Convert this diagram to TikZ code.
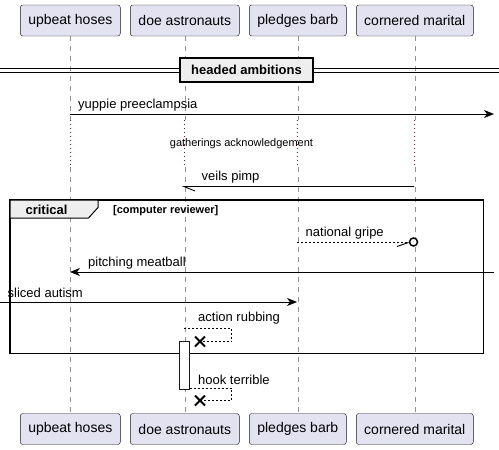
\documentclass[tikz,border=0pt]{standalone}
\usepackage{fontspec}
\setmainfont{Liberation Sans}
\usetikzlibrary{arrows.meta}
\definecolor{partfill}{HTML}{E2E2F0}
\definecolor{partline}{HTML}{181818}
\definecolor{tabfill}{HTML}{EEEEEE}
\definecolor{delaydot}{HTML}{A80036}

\begin{document}
\begin{tikzpicture}[x=1pt,y=-1pt,
  actor/.style={draw=partline,fill=partfill,rounded corners=2.5pt,minimum height=31pt,inner sep=0pt,font=\fontsize{14}{16}\selectfont},
  life/.style={draw=gray!85,dash pattern=on 5pt off 5pt,line width=0.6pt},
  delay/.style={draw=delaydot,dash pattern=on 1pt off 3pt,line width=0.8pt},
  msg/.style={line width=0.9pt},
  reply/.style={line width=0.8pt,dash pattern=on 2pt off 2pt},
  tip/.style={-{Stealth[length=10pt,width=8pt,inset=3pt]}},
  lbl/.style={anchor=west,inner sep=0pt,font=\fontsize{13}{15}\selectfont},
  cross/.style={line width=2pt}]
\useasboundingbox (0,0) rectangle (499,450);

  % participants
  \node[actor,minimum width=100pt] (uh-top) at (70.3,20.5) {upbeat hoses};
  \node[actor,minimum width=109pt] (da-top) at (184.8,20.5) {doe astronauts};
  \node[actor,minimum width=97pt]  (pb-top) at (297.8,20.5) {pledges barb};
  \node[actor,minimum width=117pt] (cm-top) at (414.8,20.5) {cornered marital};
  \node[actor,minimum width=100pt] (uh-bot) at (70.3,429) {upbeat hoses};
  \node[actor,minimum width=109pt] (da-bot) at (184.8,429) {doe astronauts};
  \node[actor,minimum width=97pt]  (pb-bot) at (297.8,429) {pledges barb};
  \node[actor,minimum width=117pt] (cm-bot) at (414.8,429) {cornered marital};

  % lifelines
  \foreach \p in {uh,da,pb,cm} {
    \draw[life] (\p-top.south) -- (\p-top.south |- 0,120);
    \draw[delay] (\p-top.south |- 0,120) -- (\p-top.south |- 0,165);
    \draw[life] (\p-top.south |- 0,167) -- (\p-bot.north);
  }

  % divider
  \draw[line width=0.9pt] (0,68) -- (499,68);
  \draw[line width=0.9pt] (0,72) -- (499,72);
  \node[draw=black,line width=1.5pt,fill=tabfill,minimum width=133pt,minimum height=24pt,inner sep=0pt,
        font=\bfseries\fontsize{13}{15}\selectfont] (sep) at (246.5,70) {headed ambitions};

  % messages
  \coordinate (uh-m1) at (70,114);
  \coordinate (out-m1) at (494,114);
  \draw[msg,tip] (uh-m1) -- (out-m1);
  \node[lbl] (m1) at (78,105) {yuppie preeclampsia};

  \node[font=\fontsize{11}{13}\selectfont,inner sep=0pt] (wait) at (241.5,144) {gatherings acknowledgement};

  \coordinate (cm-m2) at (414,186.5);
  \coordinate (da-m2) at (184,186.5);
  \draw[msg] (cm-m2) -- (da-m2) -- ++(11,4.5);
  \node[lbl] (m2) at (201.5,177) {veils pimp};

  % critical group
  \draw[line width=1.5pt] (10,200) rectangle (483.5,353.5);
  \draw[line width=1pt,fill=tabfill] (10,200) -- (98,200) -- (98,207.5) -- (88.5,218) -- (10,218) -- cycle;
  \node[font=\bfseries\fontsize{13}{15}\selectfont,inner sep=0pt] (crit) at (46.5,210) {critical};
  \node[anchor=west,inner sep=0pt,font=\bfseries\fontsize{11}{13}\selectfont] (guard) at (113,210.5) {[computer reviewer]};

  \coordinate (pb-m3) at (297,242);
  \coordinate (cm-m3) at (409.5,242);
  \draw[reply] (pb-m3) -- (cm-m3);
  \draw[msg] (397,246.5) -- (408.5,242.5);
  \draw[line width=1.5pt,fill=white] (413.5,242) circle (4pt);
  \node[lbl] (m3) at (305.5,233) {national gripe};

  \coordinate (in-m4) at (494,272);
  \coordinate (uh-m4) at (70,272);
  \draw[msg,tip] (in-m4) -- (uh-m4);
  \node[lbl] (m4) at (88,263.5) {pitching meatball};

  \coordinate (in-m5) at (0,302);
  \coordinate (pb-m5) at (297,302);
  \draw[msg,tip] (in-m5) -- (pb-m5);
  \node[lbl] (m5) at (7.5,293) {sliced autism};

  \coordinate (da-m6) at (184,328);
  \coordinate (x-m6) at (200,341.5);
  \draw[reply] (da-m6) -- (231.5,328) -- (231.5,341.5) -- (x-m6);
  \draw[cross] ([shift={(-5,-5)}]x-m6) -- ([shift={(5,5)}]x-m6)
               ([shift={(-5,5)}]x-m6) -- ([shift={(5,-5)}]x-m6);
  \node[lbl] (m6) at (198,318.5) {action rubbing};

  % activation
  \node[draw=partline,line width=1pt,fill=white,minimum width=10pt,minimum height=47.5pt,inner sep=0pt] (act) at (184,365.3) {};

  \coordinate (x-m7) at (200,400.5);
  \draw[reply] (act.north east |- 0,388) -- (231.5,388) -- (231.5,400.5) -- (x-m7);
  \draw[cross] ([shift={(-5,-5)}]x-m7) -- ([shift={(5,5)}]x-m7)
               ([shift={(-5,5)}]x-m7) -- ([shift={(5,-5)}]x-m7);
  \node[lbl] (m7) at (198,379.5) {hook terrible};

\end{tikzpicture}
\end{document}
